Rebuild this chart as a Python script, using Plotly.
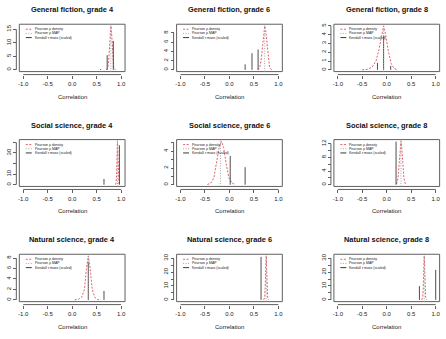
import plotly.graph_objects as go

W, H = 446, 339

# ---------------- data ----------------
titles = ["General fiction, grade 4", "General fiction, grade 6", "General fiction, grade 8",
          "Social science, grade 4", "Social science, grade 6", "Social science, grade 8",
          "Natural science, grade 4", "Natural science, grade 6", "Natural science, grade 8"]

x_ticks = [-1.0, -0.5, 0.0, 0.5, 1.0]
x_tick_labels = ["-1.0", "-0.5", "0.0", "0.5", "1.0"]

# General fiction, grade 4
gf4_dens_x = [0.70, 0.73, 0.75, 0.77, 0.78, 0.79, 0.80, 0.81, 0.83, 0.85, 0.88]
gf4_dens_y = [0.02, 0.9, 4.5, 11.8, 15.0, 16.2, 15.0, 11.8, 4.5, 0.9, 0.02]
gf4_tau_x = [0.58, 0.715, 0.84]
gf4_tau_y = [0.3, 5.4, 10.7]
gf4_map = 0.79
gf4_yticks = [0, 5, 10, 15]
gf4_ylabels = ["0", "5", "10", "15"]

# General fiction, grade 6
gf6_dens_x = [0.58, 0.62, 0.65, 0.68, 0.70, 0.72, 0.74, 0.76, 0.79, 0.82, 0.86]
gf6_dens_y = [0.04, 0.53, 2.37, 6.05, 8.5, 9.5, 8.5, 6.05, 2.37, 0.53, 0.04]
gf6_tau_x = [0.32, 0.46, 0.585]
gf6_tau_y = [1.2, 3.6, 4.4]
gf6_map = 0.72
gf6_yticks = [0, 2, 4, 6, 8]
gf6_ylabels = ["0", "2", "4", "6", "8"]

# General fiction, grade 8
gf8_dens_x = [-0.50, -0.40, -0.30, -0.22, -0.16, -0.11, -0.065, -0.02, 0.03, 0.09, 0.15, 0.22]
gf8_dens_y = [0.0, 0.05, 0.3, 1.0, 2.3, 3.9, 5.0, 3.9, 2.2, 0.7, 0.15, 0.0]
gf8_tau_x = [-0.19, -0.065, 0.08]
gf8_tau_y = [0.8, 3.9, 0.45]
gf8_map = -0.065
gf8_yticks = [0, 1, 2, 3, 4, 5]
gf8_ylabels = ["0", "1", "2", "3", "4", "5"]

# Social science, grade 4
ss4_dens_x = [0.89, 0.905, 0.915, 0.92, 0.925, 0.93, 0.935, 0.945, 0.96]
ss4_dens_y = [0.1, 5.5, 24.9, 36.2, 41.0, 36.2, 24.9, 5.5, 0.1]
ss4_tau_x = [0.65, 0.965]
ss4_tau_y = [5.4, 37.3]
ss4_map = 0.925
ss4_yticks = [0, 10, 20, 30, 40]
ss4_ylabels = ["0", "10", "", "30", ""]

# Social science, grade 6
ss6_dens_x = [-0.45, -0.38, -0.32, -0.26, -0.21, -0.165, -0.12, -0.07, -0.01, 0.05, 0.12]
ss6_dens_y = [0.02, 0.2, 0.8, 2.6, 4.5, 5.2, 4.5, 2.6, 0.8, 0.2, 0.02]
ss6_tau_x = [0.015, 0.32]
ss6_tau_y = [3.45, 2.1]
ss6_map = -0.185
ss6_yticks = [0, 1, 2, 3, 4, 5]
ss6_ylabels = ["0", "", "2", "", "4", ""]

# Social science, grade 8
ss8_dens_x = [0.20, 0.23, 0.25, 0.27, 0.28, 0.29, 0.30, 0.31, 0.33, 0.35, 0.38]
ss8_dens_y = [0.19, 1.95, 5.5, 10.3, 12.1, 12.7, 12.1, 10.3, 5.5, 1.95, 0.19]
ss8_tau_x = [0.19]
ss8_tau_y = [12.6]
ss8_map = 0.29
ss8_yticks = [0, 2, 4, 6, 8, 10, 12]
ss8_ylabels = ["0", "", "4", "", "8", "", "12"]

# Natural science, grade 4
ns4_dens_x = [0.05, 0.13, 0.20, 0.25, 0.29, 0.33, 0.37, 0.41, 0.46, 0.52, 0.58]
ns4_dens_y = [0.0, 0.1, 0.6, 2.0, 5.8, 8.4, 5.8, 2.0, 0.5, 0.05, 0.0]
ns4_tau_x = [0.33, 0.65]
ns4_tau_y = [7.2, 1.7]
ns4_map = 0.33
ns4_yticks = [0, 2, 4, 6, 8]
ns4_ylabels = ["0", "2", "4", "6", "8"]

# Natural science, grade 6
ns6_dens_x = [0.70, 0.72, 0.73, 0.74, 0.745, 0.75, 0.755, 0.76, 0.77, 0.78, 0.80]
ns6_dens_y = [0.01, 1.8, 8.9, 22.9, 29.2, 31.6, 29.2, 22.9, 8.9, 1.8, 0.01]
ns6_tau_x = [0.645]
ns6_tau_y = [31.0]
ns6_map = 0.75
ns6_yticks = [0, 5, 10, 15, 20, 25, 30]
ns6_ylabels = ["0", "", "10", "", "20", "", "30"]

# Natural science, grade 8
ns8_dens_x = [0.715, 0.735, 0.745, 0.755, 0.76, 0.765, 0.77, 0.775, 0.785, 0.795, 0.815]
ns8_dens_y = [0.01, 1.8, 8.9, 22.9, 29.2, 31.6, 29.2, 22.9, 8.9, 1.8, 0.01]
ns8_tau_x = [0.667, 1.0]
ns8_tau_y = [9.9, 21.6]
ns8_map = 0.765
ns8_yticks = [0, 5, 10, 15, 20, 25, 30]
ns8_ylabels = ["0", "", "10", "", "20", "", "30"]

legend_labels = ["Pearson \u03c1 density", "Pearson \u03c1 MAP", "Kendall \u03c4 mass (scaled)"]

panels = [
    (gf4_dens_x, gf4_dens_y, gf4_tau_x, gf4_tau_y, gf4_map, gf4_yticks, gf4_ylabels),
    (gf6_dens_x, gf6_dens_y, gf6_tau_x, gf6_tau_y, gf6_map, gf6_yticks, gf6_ylabels),
    (gf8_dens_x, gf8_dens_y, gf8_tau_x, gf8_tau_y, gf8_map, gf8_yticks, gf8_ylabels),
    (ss4_dens_x, ss4_dens_y, ss4_tau_x, ss4_tau_y, ss4_map, ss4_yticks, ss4_ylabels),
    (ss6_dens_x, ss6_dens_y, ss6_tau_x, ss6_tau_y, ss6_map, ss6_yticks, ss6_ylabels),
    (ss8_dens_x, ss8_dens_y, ss8_tau_x, ss8_tau_y, ss8_map, ss8_yticks, ss8_ylabels),
    (ns4_dens_x, ns4_dens_y, ns4_tau_x, ns4_tau_y, ns4_map, ns4_yticks, ns4_ylabels),
    (ns6_dens_x, ns6_dens_y, ns6_tau_x, ns6_tau_y, ns6_map, ns6_yticks, ns6_ylabels),
    (ns8_dens_x, ns8_dens_y, ns8_tau_x, ns8_tau_y, ns8_map, ns8_yticks, ns8_ylabels),
]

# ---------------- layout geometry (pixels) ----------------
col_box = [(18.4, 124.6), (176.4, 282.6), (334.4, 440.6)]
row_box = [(23.3, 70.8), (139.0, 186.0), (254.0, 301.5)]
AXGAP = 3.0
FONT = "Liberation Sans, Arial, Helvetica, sans-serif"
RED = "#E2606A"
GREY = "#a5a5a5"
LINEC = "#606060"
SPIKE = "#3a3a3a"

fig = go.Figure()
layout = dict(width=W, height=H, margin=dict(l=0, r=0, t=0, b=0),
              paper_bgcolor="white", plot_bgcolor="white", showlegend=False,
              font=dict(family=FONT, color="#222"))
shapes, annots = [], []

def px_x(p):
    return p / W

def px_y(p):
    return 1 - p / H

for i, (dx, dy, tx, ty, mp, yt, yl) in enumerate(panels):
    r, c = divmod(i, 3)
    n = "" if i == 0 else str(i + 1)
    xa, ya = "x" + n, "y" + n
    bx0, bx1 = col_box[c]
    by0, by1 = row_box[r]
    ymax = max(max(dy), max(ty))

    fig.add_trace(go.Scatter(x=dx, y=dy, mode="lines", xaxis=xa, yaxis=ya,
                             line=dict(color=RED, width=1, dash="2px,1.5px"), hoverinfo="skip"))
    sx, sy = [], []
    for xv, yv in zip(tx, ty):
        sx += [xv, xv, None]
        sy += [0, yv, None]
    fig.add_trace(go.Scatter(x=sx, y=sy, mode="lines", xaxis=xa, yaxis=ya,
                             line=dict(color=SPIKE, width=0.9), hoverinfo="skip"))

    xpos = px_y(by1 + AXGAP)
    ypos = px_x(bx0 - AXGAP)
    layout["xaxis" + n] = dict(domain=[px_x(bx0), px_x(bx1)], range=[-1.08, 1.08],
                               anchor="free", position=xpos,
                               tickvals=x_ticks, ticktext=x_tick_labels, ticks="outside",
                               ticklen=3, tickwidth=1, tickcolor=LINEC,
                               tickfont=dict(size=6, family=FONT, color="#222"),
                               showline=False, showgrid=False, zeroline=False, fixedrange=True)
    layout["yaxis" + n] = dict(domain=[px_y(by1), px_y(by0)], range=[-0.04 * ymax, 1.04 * ymax],
                               anchor="free", position=ypos,
                               tickvals=yt, ticktext=yl, ticks="outside", tickangle=-90,
                               ticklen=3, tickwidth=1, tickcolor=LINEC,
                               tickfont=dict(size=6, family=FONT, color="#222"),
                               showline=False, showgrid=False, zeroline=False, fixedrange=True)

    # plot box
    shapes.append(dict(type="rect", xref=xa + " domain", yref=ya + " domain",
                       x0=0, x1=1, y0=0, y1=1, line=dict(color=LINEC, width=1)))
    # axis lines (span first to last tick)
    shapes.append(dict(type="line", xref=xa, yref="paper", x0=x_ticks[0], x1=x_ticks[-1],
                       y0=xpos, y1=xpos, line=dict(color=LINEC, width=1)))
    shapes.append(dict(type="line", xref="paper", yref=ya, x0=ypos, x1=ypos,
                       y0=yt[0], y1=yt[-1], line=dict(color=LINEC, width=1)))
    # MAP line
    shapes.append(dict(type="line", xref=xa, yref=ya + " domain", x0=mp, x1=mp, y0=0, y1=1,
                       line=dict(color=GREY, width=1, dash="1px,1.5px")))

    # title & x label
    cx = px_x((bx0 + bx1) / 2)
    annots.append(dict(text="<b>%s</b>" % titles[i], x=cx, y=px_y(by0 - 14.3), xref="paper",
                       yref="paper", showarrow=False, xanchor="center", yanchor="middle",
                       font=dict(size=7.4, family=FONT, color="#111")))
    annots.append(dict(text="Correlation", x=cx, y=px_y(by1 + 25), xref="paper", yref="paper",
                       showarrow=False, xanchor="center", yanchor="middle",
                       font=dict(size=6, family=FONT, color="#222")))

    # legend (top-left, no frame)
    styles = [dict(color=RED, width=1, dash="2px,1.5px"),
              dict(color=GREY, width=1, dash="1px,1.5px"),
              dict(color=SPIKE, width=1)]
    for k, lab in enumerate(legend_labels):
        yy = by0 + 5.0 + 4.2 * k
        shapes.append(dict(type="line", xref="paper", yref="paper",
                           x0=px_x(bx0 + 6.5), x1=px_x(bx0 + 12.5), y0=px_y(yy), y1=px_y(yy),
                           line=styles[k]))
        annots.append(dict(text=lab, x=px_x(bx0 + 13.5), y=px_y(yy), xref="paper", yref="paper",
                           showarrow=False, xanchor="left", yanchor="middle",
                           font=dict(size=3.5, family=FONT, color="#222")))

layout["shapes"] = shapes
layout["annotations"] = annots
fig.update_layout(**layout)
fig.write_html("out.html")
